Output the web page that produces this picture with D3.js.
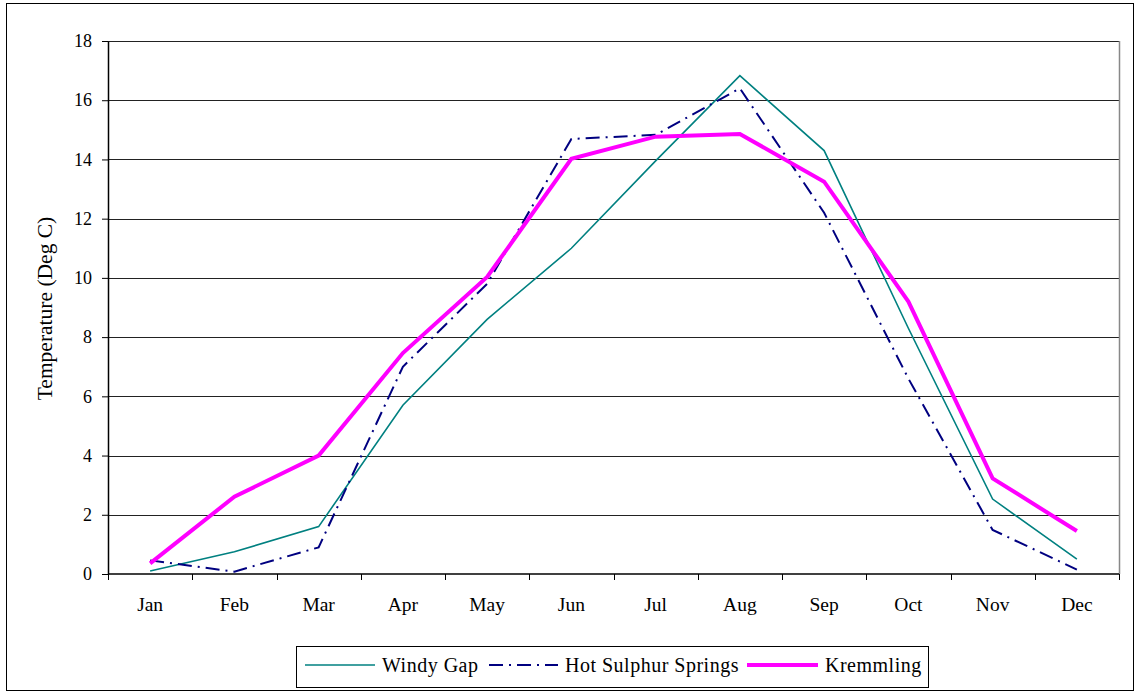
<!DOCTYPE html>
<html>
<head>
<meta charset="utf-8">
<script src="https://cdn.jsdelivr.net/npm/d3@7"></script>
<style>
  body { margin: 0; background: #fff; }
  text { font-family: "Liberation Serif", "Times New Roman", serif; fill: #000; }
</style>
</head>
<body>
<div id="chart"></div>
<script>
const months = ['Jan','Feb','Mar','Apr','May','Jun','Jul','Aug','Sep','Oct','Nov','Dec'];
const windyGap = [0.1, 0.75, 1.6, 5.7, 8.6, 11.0, 13.95, 16.83, 14.3, 8.3, 2.53, 0.5];
const hotSulphur = [0.46, 0.08, 0.9, 7.0, 9.8, 14.69, 14.83, 16.4, 12.2, 6.6, 1.49, 0.15];
const kremmling = [0.36, 2.61, 4.0, 7.46, 10.03, 14.02, 14.77, 14.86, 13.25, 9.2, 3.23, 1.45];
const yTicks = [0, 2, 4, 6, 8, 10, 12, 14, 16, 18];

const series = [
  { name: 'Windy Gap', values: windyGap, color: '#008080', width: 1.6, dash: null },
  { name: 'Hot Sulphur Springs', values: hotSulphur, color: '#000080', width: 2, dash: '14,6,2,6' },
  { name: 'Kremmling', values: kremmling, color: '#ff00ff', width: 4, dash: null }
];

const width = 1138, height = 694;
const plot = { left: 108, right: 1119, top: 41, bottom: 574 }; // plot area, in pixels

const svg = d3.select('#chart').append('svg')
  .attr('width', width).attr('height', height);

// outer frame
svg.append('rect')
  .attr('x', 6.5).attr('y', 3.5).attr('width', 1127).attr('height', 687)
  .attr('fill', 'none').attr('stroke', '#000').attr('stroke-width', 1);

const x = d3.scaleBand().domain(months).range([plot.left, plot.right]);
const y = d3.scaleLinear().domain([0, 18]).range([plot.bottom, plot.top]);

// gridlines
svg.append('g').selectAll('line').data(yTicks.filter(d => d > 0)).enter()
  .append('line')
  .attr('x1', plot.left).attr('x2', plot.right)
  .attr('y1', d => Math.round(y(d)) + 0.5).attr('y2', d => Math.round(y(d)) + 0.5)
  .attr('stroke', '#222').attr('stroke-width', 1);

// right border of plot area
svg.append('line')
  .attr('x1', plot.right + 0.5).attr('x2', plot.right + 0.5)
  .attr('y1', plot.top).attr('y2', plot.bottom)
  .attr('stroke', '#888').attr('stroke-width', 1.5);

// y axis
const yAxis = svg.append('g')
  .attr('transform', `translate(${plot.left},0)`)
  .call(d3.axisLeft(y).tickValues(yTicks).tickSize(6).tickSizeOuter(0).tickPadding(10));
yAxis.select('.domain').attr('stroke', '#000').attr('stroke-width', 1.5);
yAxis.selectAll('.tick line').attr('stroke', '#000');
yAxis.selectAll('text').attr('font-size', 18).attr('font-family', '"Liberation Serif", serif');

// x axis, ticks at category boundaries
const xAxis = svg.append('g')
  .attr('transform', `translate(0,${plot.bottom})`);
xAxis.append('line')
  .attr('x1', plot.left).attr('x2', plot.right)
  .attr('stroke', '#000').attr('stroke-width', 1.5);
xAxis.selectAll('.xtick').data(months.concat(['end'])).enter()
  .append('line')
  .attr('x1', (d, i) => Math.round(plot.left + i * x.bandwidth()) + 0.5)
  .attr('x2', (d, i) => Math.round(plot.left + i * x.bandwidth()) + 0.5)
  .attr('y1', 0).attr('y2', 6)
  .attr('stroke', '#000');
xAxis.selectAll('.xlabel').data(months).enter()
  .append('text')
  .attr('x', d => x(d) + x.bandwidth() / 2)
  .attr('y', 37)
  .attr('text-anchor', 'middle')
  .attr('font-size', 19.5)
  .text(d => d);

// y axis title
svg.append('text')
  .attr('transform', `translate(52,${(plot.top + plot.bottom) / 2 + 1}) rotate(-90)`)
  .attr('text-anchor', 'middle')
  .attr('font-size', 21.5)
  .text('Temperature (Deg C)');

// lines
const line = d3.line()
  .x((d, i) => x(months[i]) + x.bandwidth() / 2)
  .y(d => y(d));

series.forEach(s => {
  svg.append('path')
    .datum(s.values)
    .attr('d', line)
    .attr('fill', 'none')
    .attr('stroke', s.color)
    .attr('stroke-width', s.width)
    .attr('stroke-dasharray', s.dash)
    .attr('stroke-linejoin', 'miter');
});

// legend
const legend = svg.append('g');
legend.append('rect')
  .attr('x', 296.5).attr('y', 646.5).attr('width', 632).attr('height', 41)
  .attr('fill', '#fff').attr('stroke', '#000').attr('stroke-width', 1);
const legendPos = [
  { x1: 305, x2: 375, tx: 382 },
  { x1: 489, x2: 558, tx: 565 },
  { x1: 747, x2: 818, tx: 825 }
];
series.forEach((s, i) => {
  const p = legendPos[i];
  legend.append('line')
    .attr('x1', p.x1).attr('x2', p.x2).attr('y1', 665).attr('y2', 665)
    .attr('stroke', s.color).attr('stroke-width', s.width)
    .attr('stroke-dasharray', s.dash);
  legend.append('text')
    .attr('x', p.tx).attr('y', 672)
    .attr('font-size', 20)
    .attr('letter-spacing', 0.5)
    .text(s.name);
});
</script>
</body>
</html>
